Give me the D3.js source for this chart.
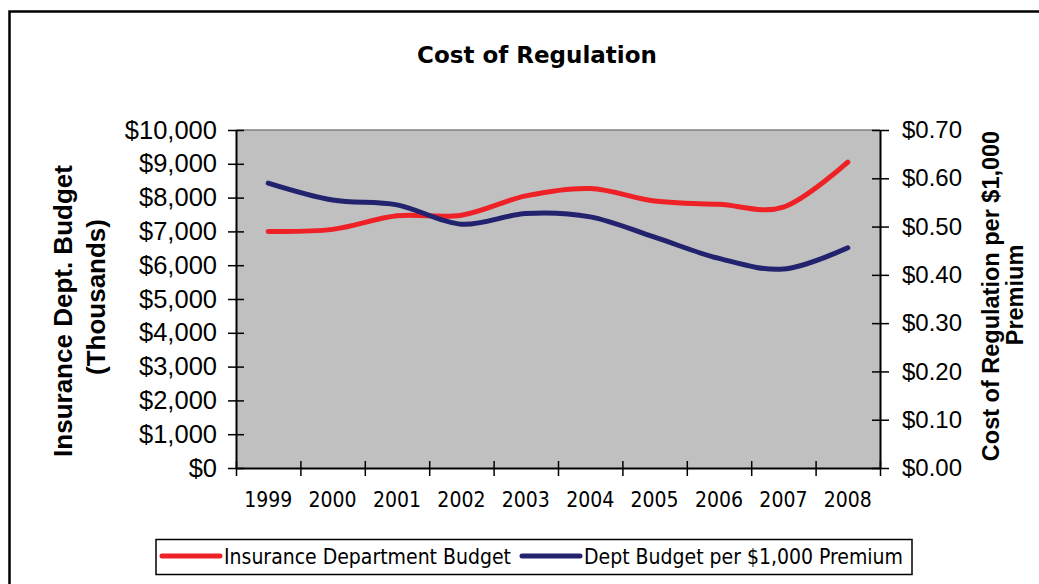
<!DOCTYPE html>
<html>
<head>
<meta charset="utf-8">
<script src="https://cdn.jsdelivr.net/npm/d3@7"></script>
<style>
  body { margin: 0; background: #fff; }
  svg { display: block; }
  .tick text { fill: #000; }
</style>
</head>
<body>
<svg width="1039" height="584"></svg>
<script>
// data
var years = ["1999", "2000", "2001", "2002", "2003", "2004", "2005", "2006", "2007", "2008"];
var budget = [7000, 7060, 7460, 7480, 8050, 8270, 7900, 7800, 7720, 9050];          // thousands $
var perPremium = [0.590, 0.555, 0.545, 0.505, 0.527, 0.520, 0.478, 0.434, 0.412, 0.456]; // $ per $1,000
var leftTicks = d3.range(0, 10001, 1000);
var rightTicks = d3.range(0, 0.701, 0.1);
var seriesNames = ["Insurance Department Budget", "Dept Budget per $1,000 Premium"];
var seriesColors = ["#ee2127", "#23226f"];

var svg = d3.select("svg");

var plot = {left: 236, right: 880, top: 130, bottom: 468};

// outer frame
svg.append("rect")
    .attr("x", 9.5).attr("y", 11.5)
    .attr("width", 1080).attr("height", 620)
    .attr("fill", "#fff")
    .attr("stroke", "#000")
    .attr("stroke-width", 2.5);

// title
svg.append("text")
    .attr("x", 537).attr("y", 63)
    .attr("text-anchor", "middle")
    .style("font-family", "DejaVu Sans")
    .style("font-weight", "bold")
    .style("font-size", "23px")
    .text("Cost of Regulation");

// scales
var x = d3.scaleBand().domain(years).range([plot.left, plot.right]);
var xEdges = d3.scaleLinear().domain([0, years.length]).range([plot.left, plot.right]);
var yLeft = d3.scaleLinear().domain([0, 10000]).range([plot.bottom, plot.top]);
var yRight = d3.scaleLinear().domain([0, 0.7]).range([plot.bottom, plot.top]);

// plot area
svg.append("rect")
    .attr("x", plot.left).attr("y", plot.top)
    .attr("width", plot.right - plot.left)
    .attr("height", plot.bottom - plot.top)
    .attr("fill", "#c0c0c0");
svg.append("line")
    .attr("x1", plot.left).attr("x2", plot.right)
    .attr("y1", plot.top).attr("y2", plot.top)
    .attr("stroke", "#808080")
    .attr("stroke-width", 1.5);

// lines (Excel style smoothing)
var lineLeft = d3.line()
    .x(function(d, i) { return x(years[i]) + x.bandwidth() / 2; })
    .y(function(d) { return yLeft(d); })
    .curve(d3.curveCardinal.tension(0));
var lineRight = d3.line()
    .x(function(d, i) { return x(years[i]) + x.bandwidth() / 2; })
    .y(function(d) { return yRight(d); })
    .curve(d3.curveCardinal.tension(0));

svg.append("path")
    .datum(budget)
    .attr("d", lineLeft)
    .attr("fill", "none")
    .attr("stroke", seriesColors[0])
    .attr("stroke-width", 5)
    .attr("stroke-linecap", "round");
svg.append("path")
    .datum(perPremium)
    .attr("d", lineRight)
    .attr("fill", "none")
    .attr("stroke", seriesColors[1])
    .attr("stroke-width", 5)
    .attr("stroke-linecap", "round");

// left axis
var gLeft = svg.append("g")
    .attr("transform", "translate(" + plot.left + ",0)")
    .call(d3.axisLeft(yLeft)
        .tickValues(leftTicks)
        .tickSize(8)
        .tickSizeOuter(0)
        .tickPadding(11)
        .tickFormat(function(d) { return "$" + d3.format(",")(d); }));
gLeft.selectAll(".tick line").attr("x1", 8);
gLeft.selectAll(".tick text")
    .style("font-family", "Liberation Sans")
    .style("font-size", "25.5px");

// right axis
var gRight = svg.append("g")
    .attr("transform", "translate(" + plot.right + ",0)")
    .call(d3.axisRight(yRight)
        .tickValues(rightTicks)
        .tickSize(9)
        .tickSizeOuter(0)
        .tickPadding(13)
        .tickFormat(d3.format("$.2f")));
gRight.selectAll(".tick line").attr("x1", -8);
gRight.selectAll(".tick text")
    .style("font-family", "Liberation Sans")
    .style("font-size", "24px");

// bottom axis: ticks on the category edges, labels in the middle
var gBottom = svg.append("g")
    .attr("transform", "translate(0," + plot.bottom + ")")
    .call(d3.axisBottom(xEdges)
        .ticks(years.length)
        .tickSize(8)
        .tickSizeOuter(0)
        .tickFormat(""));
gBottom.selectAll(".tick line").attr("y1", -7);

var gLabels = svg.append("g")
    .attr("transform", "translate(0," + plot.bottom + ")")
    .call(d3.axisBottom(x).tickSize(0).tickPadding(24));
gLabels.select(".domain").remove();
gLabels.selectAll(".tick text")
    .style("font-family", "DejaVu Sans Condensed")
    .style("font-size", "21px");

svg.selectAll(".domain").attr("stroke-width", 2);
svg.selectAll(".tick line").attr("stroke-width", 1.5);

// axis titles
var leftTitle = svg.append("g")
    .style("font-family", "Liberation Sans")
    .style("font-weight", "bold")
    .style("font-size", "26px")
    .attr("text-anchor", "middle");
leftTitle.append("text")
    .attr("transform", "translate(72,311) rotate(-90)")
    .text("Insurance Dept. Budget");
leftTitle.append("text")
    .attr("transform", "translate(105,297) rotate(-90)")
    .text("(Thousands)");

var rightTitle = svg.append("g")
    .style("font-family", "Liberation Sans")
    .style("font-weight", "bold")
    .style("font-size", "23.5px")
    .attr("text-anchor", "middle");
rightTitle.append("text")
    .attr("transform", "translate(999,296) rotate(-90)")
    .text("Cost of Regulation per $1,000");
rightTitle.append("text")
    .attr("transform", "translate(1023,295) rotate(-90)")
    .text("Premium");

// legend
var legend = svg.append("g");
legend.append("rect")
    .attr("x", 156).attr("y", 539.5)
    .attr("width", 756).attr("height", 35)
    .attr("fill", "#fff")
    .attr("stroke", "#000")
    .attr("stroke-width", 1.5);
var legendX = [162, 522];
seriesNames.forEach(function(name, i) {
    legend.append("line")
        .attr("x1", legendX[i]).attr("x2", legendX[i] + 58)
        .attr("y1", 556).attr("y2", 556)
        .attr("stroke", seriesColors[i])
        .attr("stroke-width", 5)
        .attr("stroke-linecap", "round");
    legend.append("text")
        .attr("x", legendX[i] + 62).attr("y", 564)
        .style("font-family", "DejaVu Sans Condensed")
        .style("font-size", "21px")
        .text(name);
});
</script>
</body>
</html>
